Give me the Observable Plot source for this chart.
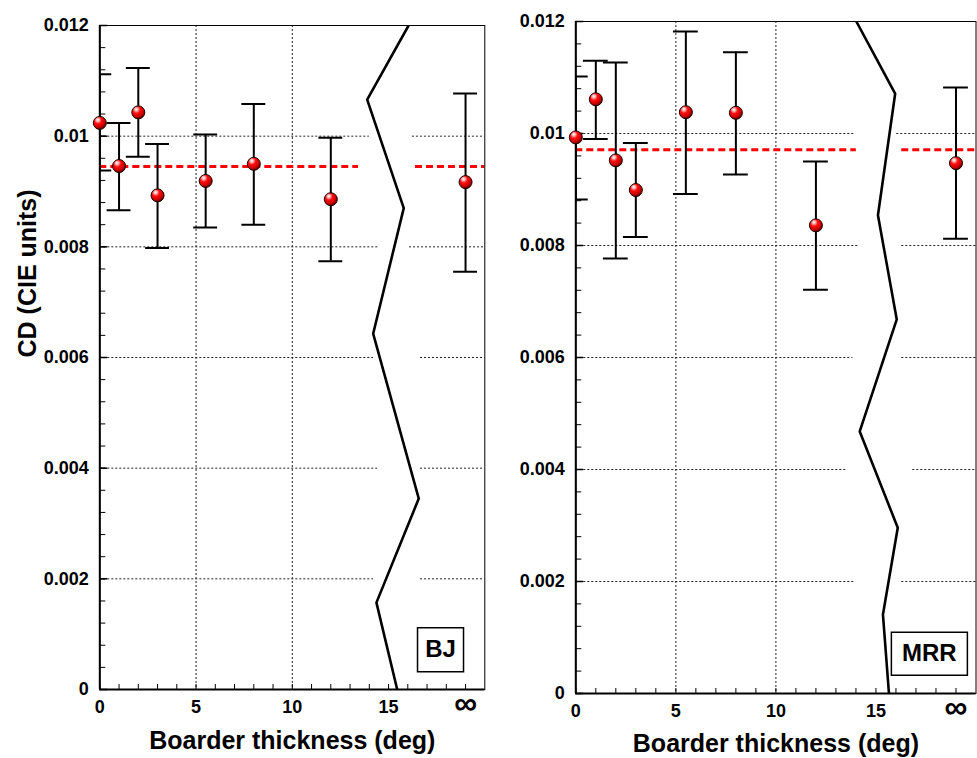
<!DOCTYPE html>
<html><head><meta charset="utf-8">
<script src="https://cdn.jsdelivr.net/npm/d3@7"></script>
<script src="https://cdn.jsdelivr.net/npm/@observablehq/plot@0.6"></script>
<style>
body{margin:0;background:#fff;}
#wrap{display:flex;width:977px;height:758px;overflow:hidden;}
</style></head><body><div id="wrap"></div>
<script>
// ---------- data ----------
const thickness = [0, 1, 2, 3, 5.5, 8, 12, 19];   // 19 = "∞" position
const xTickValues = [0, 5, 10, 15];
const xTickLabels = ["0", "5", "10", "15"];
const infinityPos = 19;
const infinityLabel = "∞";
const yTickValues = [0, 0.002, 0.004, 0.006, 0.008, 0.01, 0.012];
const yTickLabels = ["0", "0.002", "0.004", "0.006", "0.008", "0.01", "0.012"];
const gridYValues = [0.002, 0.004, 0.006, 0.008, 0.01];
const gridXValues = [5, 10];

const bjCD   = [0.01024, 0.00946, 0.01043, 0.00893, 0.00919, 0.00950, 0.00886, 0.00917];
const bjLow  = [0.00938, 0.00866, 0.00963, 0.00798, 0.00835, 0.00840, 0.00774, 0.00755];
const bjHigh = [0.01112, 0.01024, 0.01123, 0.00986, 0.01003, 0.01058, 0.00997, 0.01077];
const bjMean = 0.00945;
const bjMeanGap = [13.44, 16.4];
const bjBreakX = [16.04, 13.89, 15.79, 14.2, 16.57, 14.37, 15.45];
const bjBreakY = [0.012, 0.01066, 0.0087, 0.00643, 0.00345, 0.00157, 0];
const bjGridGapStart = [14.22, 14.43, 14.22, 14.48, 14.0];
const bjGridGapEnd   = [16.66, 16.66, 16.66, 16.09, 16.24];
const bjLabel = {text: "BJ", x: 17.7, y: 0.00072};

const mrrCD   = [0.00993, 0.01061, 0.00952, 0.00899, 0.01038, 0.01037, 0.00836, 0.00947];
const mrrLow  = [0.00882, 0.00990, 0.00777, 0.00815, 0.00892, 0.00927, 0.00721, 0.00812];
const mrrHigh = [0.01102, 0.01130, 0.01127, 0.00983, 0.01182, 0.01145, 0.00950, 0.01082];
const mrrMean = 0.00971;
const mrrMeanGap = [14.02, 16.29];
const mrrBreakX = [14.02, 15.96, 15.1, 16.04, 14.19, 16.09, 15.35, 15.65];
const mrrBreakY = [0.012, 0.01071, 0.00854, 0.00668, 0.00468, 0.00296, 0.00141, 0];
const mrrGridGapStart = [13.9, 13.55, 13.85, 14.15, 13.94];
const mrrGridGapEnd   = [16.29, 16.84, 16.29, 16.29, 16.04];
const mrrLabel = {text: "MRR", x: 17.67, y: 0.00071};

const xTitle = "Boarder thickness (deg)";
const yTitle = "CD (CIE units)";

// ---------- drawing ----------
const FONT = "'Liberation Sans', Arial, sans-serif";

function boxSymbol(w, h) {
  return {draw(ctx) { ctx.rect(-w / 2, -h / 2, w, h); }};
}

function panel(cfg) {
  const {cd, low, high, mean, meanGap, breakX, breakY, gapStart, gapEnd, label, boxW, boxH,
         width, height, mt, mb, ml, mr, gradId, showYTitle, titleDy} = cfg;
  const plotW = width - ml - mr, plotH = height - mt - mb;
  const pts = thickness.map((x, i) => ({x, y: cd[i], lo: low[i], hi: high[i]}));
  const gridSegs = [];
  gridYValues.forEach((y, i) => {
    gridSegs.push({y, x1: 0, x2: gapStart[i]});
    gridSegs.push({y, x1: gapEnd[i], x2: 20});
  });
  const meanSegs = [{y: mean, x1: 0, x2: meanGap[0]}, {y: mean, x1: meanGap[1], x2: 20}];
  const brk = breakX.map((x, i) => ({x, y: breakY[i]}));
  const minorY = d3.range(0, 31).map(i => i * 0.0004);
  const minorX = d3.range(0, 20);
  const yTicks = yTickValues.map((v, i) => ({v, t: yTickLabels[i]}));
  const xTicks = xTickValues.map((v, i) => ({v, t: xTickLabels[i]}));
  const grid = {stroke: "#222", strokeWidth: 1, strokeDasharray: "2,2"};
  const marks = [
    Plot.ruleX(gridXValues, {x: d => d, ...grid}),
    Plot.ruleY(gridSegs, {y: "y", x1: "x1", x2: "x2", ...grid}),
    Plot.ruleY(meanSegs, {y: "y", x1: "x1", x2: "x2", stroke: "#ff0000", strokeWidth: 3, strokeDasharray: "7,4"}),
    Plot.line(brk, {x: "x", y: "y", stroke: "black", strokeWidth: 2.6, clip: true}),
    Plot.ruleX(pts, {x: "x", y1: "lo", y2: "hi", stroke: "black", strokeWidth: 2, clip: true}),
    Plot.ruleY(pts, {y: "hi", x1: d => d.x - 0.62, x2: d => d.x + 0.62, stroke: "black", strokeWidth: 2, clip: true}),
    Plot.ruleY(pts, {y: "lo", x1: d => d.x - 0.62, x2: d => d.x + 0.62, stroke: "black", strokeWidth: 2, clip: true}),
    Plot.frame({stroke: "black", strokeWidth: 1}),
    Plot.ruleX([0], {stroke: "black", strokeWidth: 2}),
    Plot.ruleY([0], {stroke: "black", strokeWidth: 2}),
    Plot.tickY(minorY, {y: d => d, insetRight: plotW - 6, stroke: "black", strokeWidth: 1}),
    Plot.tickY(yTickValues, {y: d => d, insetRight: plotW - 8, stroke: "black", strokeWidth: 1.5}),
    Plot.tickX(minorX, {x: d => d, insetTop: plotH - 5, stroke: "black", strokeWidth: 1}),
    Plot.dot(pts, {x: "x", y: "y", r: 6.5, fill: `url(#${gradId})`, stroke: "#1a0000", strokeWidth: 1}),
    Plot.text(yTicks, {y: "v", text: "t", frameAnchor: "left", dx: -11, textAnchor: "end",
      fontSize: 18, fontWeight: "bold", fill: "black"}),
    Plot.text(xTicks, {x: "v", text: "t", frameAnchor: "bottom", dy: 18, lineAnchor: "middle",
      fontSize: 18, fontWeight: "bold", fill: "black"}),
    Plot.text([infinityLabel], {x: infinityPos, text: d => d, frameAnchor: "bottom", dy: 14, lineAnchor: "middle",
      fontSize: 32, fontWeight: "bold", fill: "black"}),
    Plot.text([xTitle], {text: d => d, frameAnchor: "bottom", dy: titleDy, lineAnchor: "middle",
      fontSize: 25, fontWeight: "bold", fill: "black"}),
    Plot.dot([label], {x: "x", y: "y", r: 1, symbol: boxSymbol(boxW, boxH), fill: "white", stroke: "black", strokeWidth: 1.5}),
    Plot.text([label], {x: "x", y: "y", text: "text", fontSize: 24, fontWeight: "bold", fill: "black", lineAnchor: "middle"})
  ];
  if (showYTitle) {
    marks.push(Plot.text([yTitle], {text: d => d, frameAnchor: "left", dx: -72, rotate: -90,
      fontSize: 25, fontWeight: "bold", fill: "black", lineAnchor: "middle"}));
  }
  const svg = Plot.plot({
    width, height, marginTop: mt, marginBottom: mb, marginLeft: ml, marginRight: mr,
    x: {domain: [0, 20], axis: null},
    y: {domain: [0, 0.012], axis: null},
    style: {background: "white", fontFamily: FONT, overflow: "visible"},
    marks
  });
  const defs = d3.select(svg).insert("defs", ":first-child");
  const g = defs.append("radialGradient").attr("id", gradId)
    .attr("cx", "0.38").attr("cy", "0.32").attr("r", "0.7").attr("fx", "0.34").attr("fy", "0.26");
  [["0%", "#ffffff"], ["18%", "#ffb0b0"], ["40%", "#ff1010"], ["75%", "#cc0000"], ["100%", "#550000"]]
    .forEach(([o, c]) => g.append("stop").attr("offset", o).attr("stop-color", c));
  return svg;
}

const wrap = document.getElementById("wrap");
wrap.appendChild(panel({cd: bjCD, low: bjLow, high: bjHigh, mean: bjMean, meanGap: bjMeanGap,
  breakX: bjBreakX, breakY: bjBreakY, gapStart: bjGridGapStart, gapEnd: bjGridGapEnd,
  label: bjLabel, boxW: 46, boxH: 44, titleDy: 51,
  width: 490, height: 758, mt: 25, mb: 69, ml: 99.3, mr: 5.7, gradId: "ballBJ", showYTitle: true}));
wrap.appendChild(panel({cd: mrrCD, low: mrrLow, high: mrrHigh, mean: mrrMean, meanGap: mrrMeanGap,
  breakX: mrrBreakX, breakY: mrrBreakY, gapStart: mrrGridGapStart, gapEnd: mrrGridGapEnd,
  label: mrrLabel, boxW: 76, boxH: 43, titleDy: 50,
  width: 487, height: 758, mt: 21, mb: 65, ml: 85.3, mr: 1.5, gradId: "ballMRR", showYTitle: false}));
</script></body></html>
